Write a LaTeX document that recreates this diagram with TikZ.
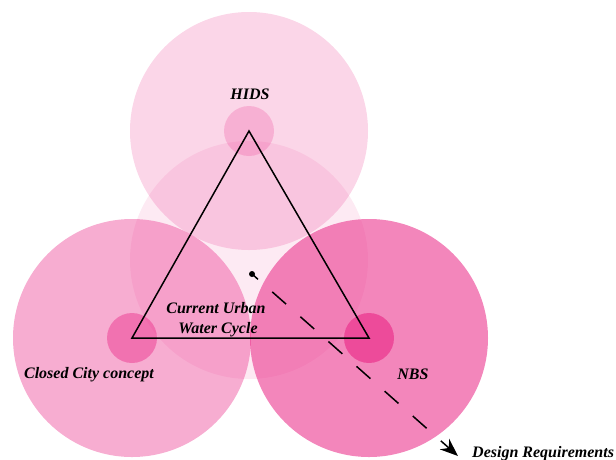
\documentclass[tikz,border=0pt]{standalone}
\usepackage{fontspec}
\setmainfont{Liberation Serif}
\usetikzlibrary{arrows.meta}
\definecolor{rosebase}{RGB}{235,50,140}
\tikzset{
  bigcirc/.style={circle,minimum size=238pt,inner sep=0pt,fill=rosebase,draw=none},
  smallcirc/.style={circle,minimum size=50pt,inner sep=0pt,fill=rosebase,draw=none},
  lbl/.style={font=\fontsize{16}{20}\selectfont\bfseries\itshape,inner sep=0pt,text=black},
  tri/.style={draw=black,line width=1.5pt,line join=miter},
  req/.style={draw=black,line width=1.5pt,dash pattern=on 18.5pt off 19pt,dash phase=10.5pt,-{Stealth[length=18pt,width=14pt]}}
}
\begin{document}
\begin{tikzpicture}[x=1pt,y=-1pt]
\useasboundingbox (0,0) rectangle (616,459);
% big circles
\node[bigcirc,fill opacity=0.2] (hids) at (249,131) {};
\node[bigcirc,fill opacity=0.1] (cuwc) at (249,260) {};
\node[bigcirc,fill opacity=0.4] (ccc) at (132,338) {};
\node[bigcirc,fill opacity=0.59] (nbs) at (369,338) {};
% small circles
\node[smallcirc,fill opacity=0.23] (hidsdot) at (249,131) {};
\node[smallcirc,fill opacity=0.48] (cccdot) at (132,338) {};
\node[smallcirc,fill opacity=0.7] (nbsdot) at (369,338) {};
% triangle
\draw[tri] (hidsdot.center) -- (cccdot.center) -- (nbsdot.center) -- cycle;
% labels
\node[lbl,anchor=base] (thids) at (250,99) {HIDS};
\node[lbl,anchor=base] (tcuwc1) at (216,313) {Current Urban};
\node[lbl,anchor=base] (tcuwc2) at (218,333) {Water Cycle};
\node[lbl,anchor=base] (tccc) at (89,378) {Closed City concept};
\node[lbl,anchor=base] (tnbs) at (413,379) {NBS};
\node[lbl,anchor=base west] (treq) at (472,457) {Design Requirements};
% design requirement arrow
\coordinate (reqstart) at (252,274);
\coordinate (reqend) at (458,456);
\fill[black] (reqstart) circle [radius=3pt];
\draw[req] (reqstart) -- (reqend);
\end{tikzpicture}
\end{document}
